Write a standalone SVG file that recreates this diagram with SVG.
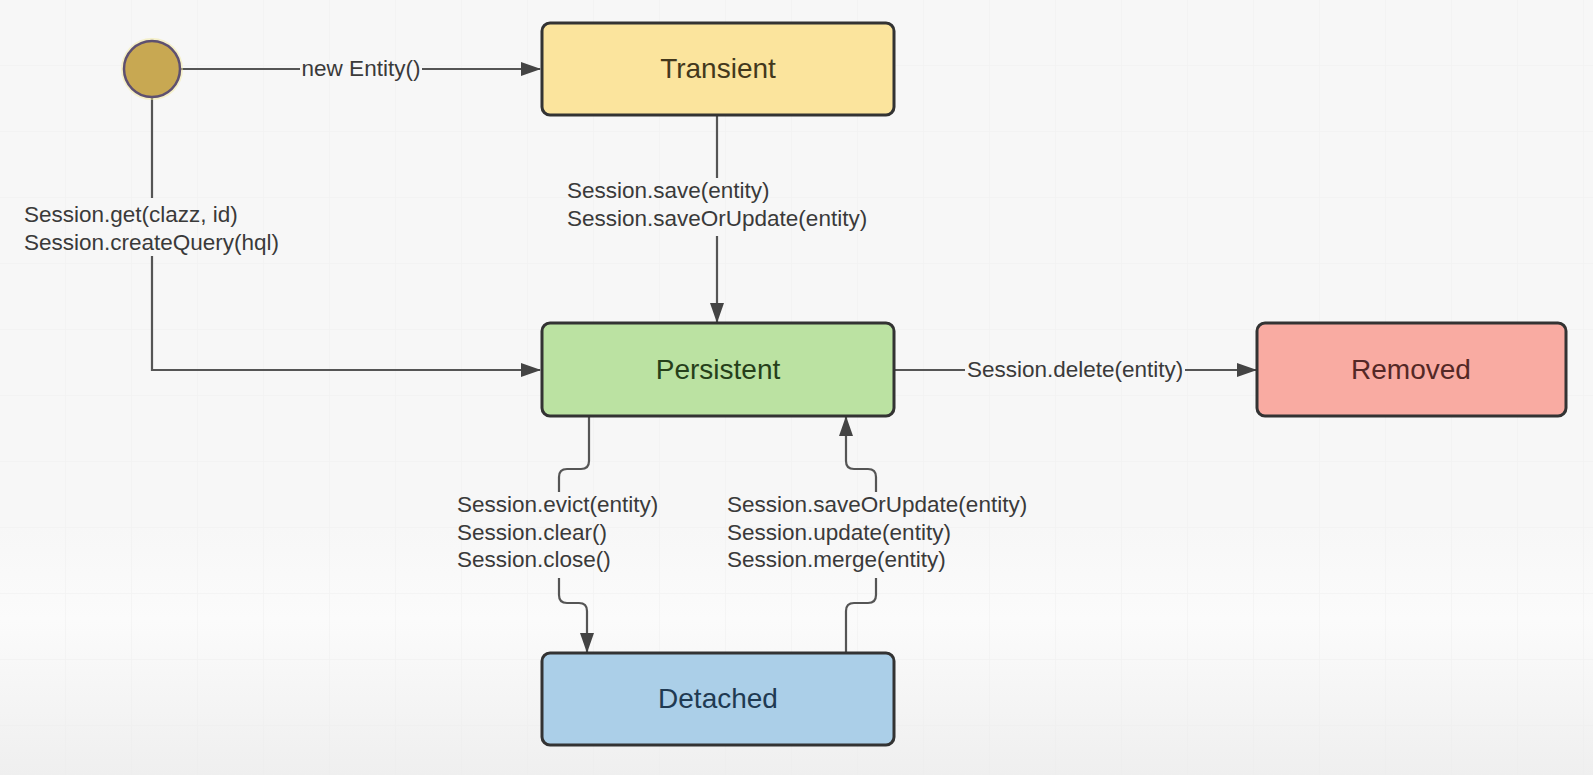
<svg xmlns="http://www.w3.org/2000/svg" width="1593" height="775" viewBox="0 0 1593 775">
<defs>
<style>
.lbl{font-family:"Liberation Sans",Arial,sans-serif;font-size:22.5px;fill:#3a3a3a}
.title{font-family:"Liberation Sans",Arial,sans-serif;font-size:28px;text-anchor:middle}
.box{stroke:#333;stroke-width:3}
.conn{fill:none;stroke:#555;stroke-width:2.2}
</style>
<marker id="arr" markerWidth="20" markerHeight="14" refX="19" refY="7" orient="auto" markerUnits="userSpaceOnUse" viewBox="0 0 20 14">
<path d="M0,0 L20,7 L0,14 Z" fill="#444"/>
</marker>
<pattern id="grid" width="66" height="66" patternUnits="userSpaceOnUse">
<path d="M66 0 V66 M0 66 H66" fill="none" stroke="#ececec" stroke-width="1.5"/>
</pattern>
<linearGradient id="bg" x1="0" y1="0" x2="0" y2="1">
<stop offset="0" stop-color="#f7f7f7"/>
<stop offset="0.68" stop-color="#f7f7f7"/>
<stop offset="0.8" stop-color="#fbfbfb"/>
<stop offset="1" stop-color="#efefef"/>
</linearGradient>
</defs>
<rect width="1593" height="775" fill="url(#bg)"/>
<rect width="1593" height="775" fill="url(#grid)" opacity="0.5"/>

<g id="connectors">
<line class="conn" x1="181" y1="69" x2="300" y2="69"/>
<line class="conn" x1="422" y1="69" x2="540" y2="69" marker-end="url(#arr)"/>
<text class="lbl" x="361" y="76" text-anchor="middle">new Entity()</text>
<path class="conn" d="M152 98 V198"/>
<path class="conn" d="M152 256 V370 H540" marker-end="url(#arr)"/>
<text class="lbl" x="24" y="222">Session.get(clazz, id)</text>
<text class="lbl" x="24" y="250">Session.createQuery(hql)</text>
<path class="conn" d="M717 115 V178"/>
<path class="conn" d="M717 236 V322" marker-end="url(#arr)"/>
<text class="lbl" x="567" y="198">Session.save(entity)</text>
<text class="lbl" x="567" y="226">Session.saveOrUpdate(entity)</text>
<line class="conn" x1="894" y1="370" x2="965" y2="370"/>
<line class="conn" x1="1185" y1="370" x2="1256" y2="370" marker-end="url(#arr)"/>
<text class="lbl" x="967" y="377">Session.delete(entity)</text>
<path class="conn" d="M589 416 V461 Q589 469 581 469 H567 Q559 469 559 477 V492"/>
<path class="conn" d="M559 578 V595 Q559 603 567 603 H579 Q587 603 587 611 V652" marker-end="url(#arr)"/>
<text class="lbl" x="457" y="512">Session.evict(entity)</text>
<text class="lbl" x="457" y="540">Session.clear()</text>
<text class="lbl" x="457" y="567">Session.close()</text>
<path class="conn" d="M846 653 V611 Q846 603 854 603 H868 Q876 603 876 595 V578"/>
<path class="conn" d="M876 492 V477 Q876 469 868 469 H854 Q846 469 846 461 V417" marker-end="url(#arr)"/>
<text class="lbl" x="727" y="512">Session.saveOrUpdate(entity)</text>
<text class="lbl" x="727" y="540">Session.update(entity)</text>
<text class="lbl" x="727" y="567">Session.merge(entity)</text>
</g>

<g id="start">
<circle cx="152" cy="69" r="31" fill="#f3ea9c" opacity="0.5"/>
<circle cx="152" cy="69" r="28" fill="#c8a852" stroke="#5e5070" stroke-width="2.5"/>
</g>

<g id="transient">
<rect class="box" x="542" y="23" width="352" height="92" rx="8" fill="#fbe49d"/>
<text class="title" x="718" y="78" fill="#43381c">Transient</text>
</g>

<g id="persistent">
<rect class="box" x="542" y="323" width="352" height="93" rx="8" fill="#bbe2a2"/>
<text class="title" x="718" y="379" fill="#263f1a">Persistent</text>
</g>

<g id="removed">
<rect class="box" x="1257" y="323" width="309" height="93" rx="8" fill="#f9aba2"/>
<text class="title" x="1411" y="379" fill="#542826">Removed</text>
</g>

<g id="detached">
<rect class="box" x="542" y="653" width="352" height="92" rx="8" fill="#abcfe8"/>
<text class="title" x="718" y="708" fill="#1f3a52">Detached</text>
</g>
</svg>
